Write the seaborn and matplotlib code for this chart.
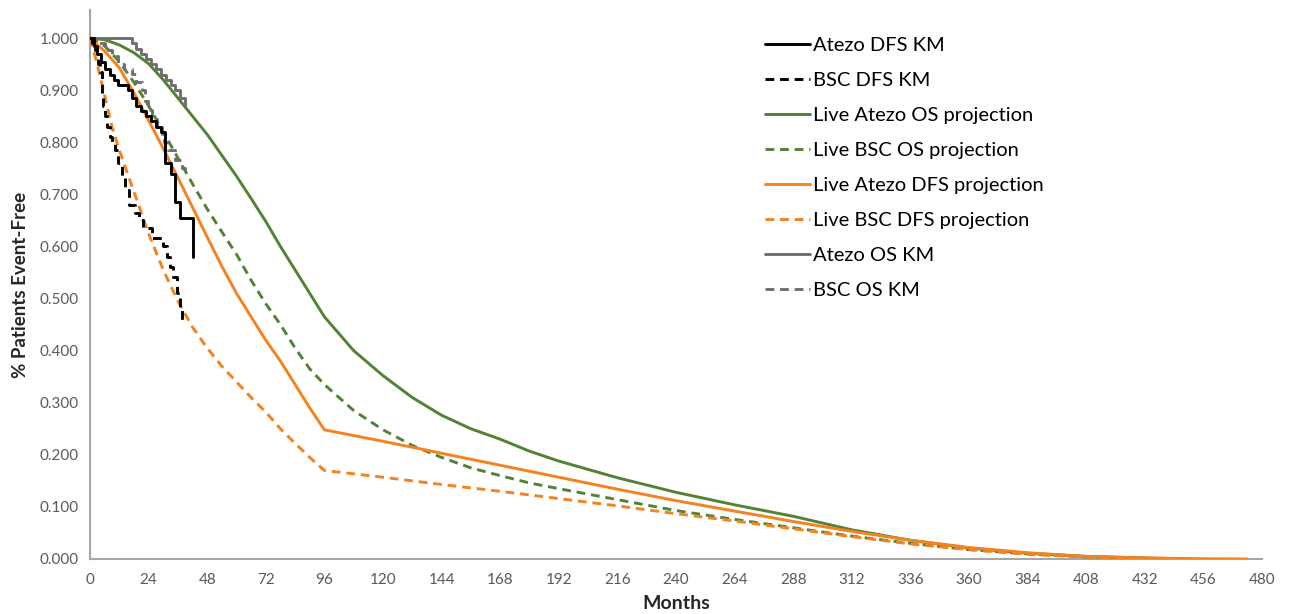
import matplotlib
matplotlib.use("Agg")
import matplotlib.pyplot as plt
import seaborn as sns
import numpy as np

# ---------------- data ----------------
atezo_dfs_km_t = [0, 1.5, 3, 4.5, 6, 8, 10, 11.5, 15.5, 17, 19, 21, 23, 25, 27, 29, 30.7, 33, 35, 36.9, 42.3]
atezo_dfs_km_s = [1.0, 0.985, 0.97, 0.955, 0.94, 0.93, 0.92, 0.91, 0.90, 0.885, 0.87, 0.86, 0.85, 0.84, 0.83, 0.82,
                  0.76, 0.74, 0.685, 0.654, 0.58]

bsc_dfs_km_t = [0, 1, 2, 2.8, 3.4, 4, 4.8, 5.5, 6.1, 7, 8.2, 9, 10.2, 11.6, 13, 14.3, 16, 18.4, 20, 21.8, 25.2,
                30, 31.4, 32.8, 34.1, 35.5, 36.9, 37.7]
bsc_dfs_km_s = [1.0, 0.99, 0.977, 0.965, 0.95, 0.935, 0.89, 0.87, 0.85, 0.83, 0.81, 0.80, 0.785, 0.76, 0.735, 0.708,
                0.68, 0.664, 0.65, 0.635, 0.617, 0.60, 0.58, 0.561, 0.542, 0.51, 0.478, 0.455]

atezo_os_km_t = [0, 17, 19, 21, 23, 25, 27, 29, 31, 33, 35, 37, 39]
atezo_os_km_s = [1.0, 0.99, 0.98, 0.97, 0.96, 0.95, 0.94, 0.93, 0.92, 0.91, 0.90, 0.885, 0.87]

bsc_os_km_t = [0, 3, 6, 9, 11.6, 14, 17, 19, 21.1, 22.5, 23.9, 25.5, 27.3, 29.3, 30.5, 32, 34.8, 37.5, 39]
bsc_os_km_s = [1.0, 0.99, 0.977, 0.965, 0.951, 0.94, 0.932, 0.915, 0.90, 0.88, 0.862, 0.845, 0.83, 0.81, 0.80,
               0.785, 0.766, 0.75, 0.745]

atezo_os_proj_t = [0, 6, 12, 18, 24, 30, 36, 42, 48, 54, 60, 66, 72, 78, 84, 90, 96, 108, 120, 132, 144, 156, 168,
                   180, 192, 216, 240, 264, 288, 312, 336, 360, 384, 408, 432, 450]
atezo_os_proj_s = [1.0, 0.997, 0.987, 0.972, 0.951, 0.92, 0.885, 0.85, 0.815, 0.775, 0.735, 0.692, 0.648, 0.60,
                   0.555, 0.51, 0.465, 0.40, 0.352, 0.31, 0.276, 0.25, 0.23, 0.207, 0.188, 0.156, 0.128, 0.104,
                   0.082, 0.056, 0.036, 0.021, 0.011, 0.005, 0.002, 0.0]

bsc_os_proj_t = [0, 6, 12, 18, 24, 30, 36, 42, 48, 54, 60, 66, 72, 78, 84, 90, 96, 108, 120, 132, 144, 156, 168,
                 180, 192, 216, 240, 264, 288, 312, 336, 360, 384, 408, 432, 440]
bsc_os_proj_s = [1.0, 0.985, 0.955, 0.915, 0.87, 0.82, 0.77, 0.72, 0.672, 0.628, 0.585, 0.535, 0.49, 0.45, 0.405,
                 0.365, 0.335, 0.285, 0.248, 0.218, 0.195, 0.175, 0.16, 0.146, 0.135, 0.114, 0.093, 0.076, 0.06,
                 0.044, 0.03, 0.018, 0.01, 0.004, 0.001, 0.0]

atezo_dfs_proj_t = [0, 6, 12, 18, 24, 30, 36, 42, 48, 54, 60, 66, 72, 78, 84, 90, 96, 120, 144, 168, 192, 216,
                    240, 264, 288, 312, 336, 360, 384, 408, 432, 456, 474]
atezo_dfs_proj_s = [1.0, 0.975, 0.943, 0.895, 0.842, 0.788, 0.732, 0.675, 0.618, 0.562, 0.51, 0.465, 0.42, 0.38,
                    0.335, 0.29, 0.248, 0.226, 0.203, 0.18, 0.157, 0.134, 0.112, 0.092, 0.072, 0.053, 0.036,
                    0.022, 0.012, 0.005, 0.002, 0.0005, 0.0]

bsc_dfs_proj_t = [0, 3, 6, 9, 12, 18, 24, 30, 36, 42, 48, 54, 60, 66, 72, 78, 84, 90, 96, 120, 144, 168, 192,
                  216, 240, 264, 288, 312, 336, 360, 384, 408, 428]
bsc_dfs_proj_s = [1.0, 0.95, 0.89, 0.83, 0.785, 0.705, 0.625, 0.555, 0.495, 0.445, 0.405, 0.37, 0.34, 0.31,
                  0.282, 0.25, 0.222, 0.195, 0.17, 0.157, 0.143, 0.13, 0.116, 0.102, 0.087, 0.073, 0.058, 0.043,
                  0.029, 0.018, 0.009, 0.004, 0.0]

x_ticks = list(range(0, 481, 24))
y_ticks = [0.0, 0.1, 0.2, 0.3, 0.4, 0.5, 0.6, 0.7, 0.8, 0.9, 1.0]

# ---------------- style ----------------
sns.set_theme(style="white")
plt.rcParams['font.family'] = ['Lato', 'DejaVu Sans']

BLACK = "#000000"
GREEN = "#548235"
ORANGE = "#F5821F"
GRAY = "#6F6F6F"
AXIS = "#A6A6A6"
TXT = "#595959"
DASH = (0, (3, 2))
LW = 2.1

fig = plt.figure(figsize=(13.05, 6.14), dpi=100)
ax = fig.add_axes([90 / 1305, 1 - 559 / 614, (1262 - 90) / 1305, (559 - 10) / 614])

series = [
    ("Atezo DFS KM", atezo_dfs_km_t, atezo_dfs_km_s, BLACK, "-", True),
    ("BSC DFS KM", bsc_dfs_km_t, bsc_dfs_km_s, BLACK, DASH, True),
    ("Live Atezo OS projection", atezo_os_proj_t, atezo_os_proj_s, GREEN, "-", False),
    ("Live BSC OS projection", bsc_os_proj_t, bsc_os_proj_s, GREEN, DASH, False),
    ("Live Atezo DFS projection", atezo_dfs_proj_t, atezo_dfs_proj_s, ORANGE, "-", False),
    ("Live BSC DFS projection", bsc_dfs_proj_t, bsc_dfs_proj_s, ORANGE, DASH, False),
    ("Atezo OS KM", atezo_os_km_t, atezo_os_km_s, GRAY, "-", True),
    ("BSC OS KM", bsc_os_km_t, bsc_os_km_s, GRAY, DASH, True),
]

zorders = [6, 6, 3, 3, 4, 4, 5, 5]
for (label, t, s, color, ls, step), z in zip(series, zorders):
    kw = dict(drawstyle="steps-post") if step else {}
    sns.lineplot(x=t, y=s, ax=ax, color=color, linestyle=ls, linewidth=LW, label=label,
                 sort=False, estimator=None, zorder=z, **kw)

ax.set_xlim(0, 480)
ax.set_ylim(0, 1.054)
ax.set_xticks(x_ticks)
ax.set_xticklabels([str(v) for v in x_ticks])
ax.set_yticks(y_ticks)
ax.set_yticklabels([f"{v:.3f}" for v in y_ticks])

for side in ["top", "right"]:
    ax.spines[side].set_visible(False)
for side in ["left", "bottom"]:
    ax.spines[side].set_color(AXIS)
    ax.spines[side].set_linewidth(1.5)

ax.tick_params(axis="both", which="major", direction="out", length=4, width=1, color=AXIS,
               labelsize=11, labelcolor=TXT, pad=4)
ax.tick_params(axis="x", pad=6)

ax.set_xlabel("Months", fontsize=14, fontweight="bold", color="#262626", labelpad=6)
ax.set_ylabel("% Patients Event-Free", fontsize=13.5, fontweight="bold", color="#262626", labelpad=8)

leg = ax.legend(loc="upper left", bbox_to_anchor=(0.569, 0.966), frameon=False, fontsize=14.5,
                handlelength=2.25, handletextpad=0.12, labelspacing=0.89, borderaxespad=0)
for txt in leg.get_texts():
    txt.set_color("#000000")

fig.savefig("out.png", dpi=100)
